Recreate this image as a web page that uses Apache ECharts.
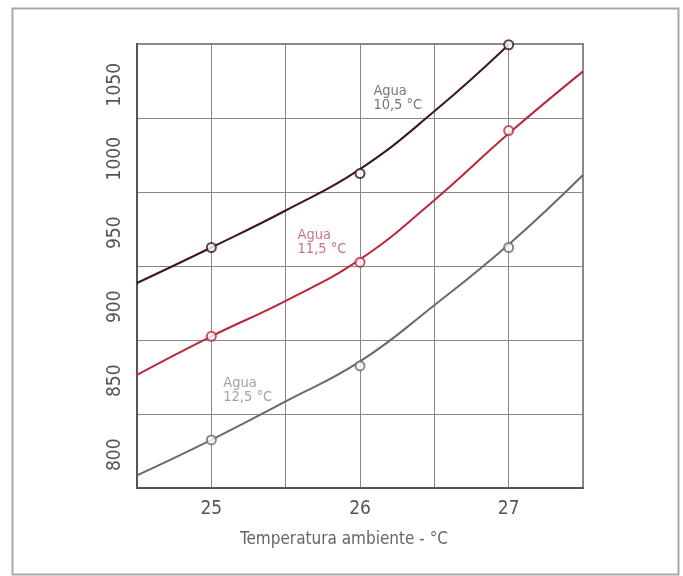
<!DOCTYPE html>
<html>
<head>
<meta charset="utf-8">
<script src="https://cdn.jsdelivr.net/npm/echarts@6/dist/echarts.min.js"></script>
<style>
  html, body { margin: 0; padding: 0; background: #ffffff; }
  #chart { width: 683px; height: 576px; }
</style>
</head>
<body>
<div id="chart"></div>
<script>
// Ambient temperature (°C) where each curve was read
const temperaturas = [24.5, 25, 25.5, 26, 26.5, 27, 27.5];

// Fitted curves for each water temperature
const curvaAgua105 = [916, 940, 965, 993, 1032, 1077];
const curvaAgua115 = [854, 880, 904, 932, 972, 1017, 1059];
const curvaAgua125 = [786, 810, 836, 863, 901, 942, 989];

// Measured points (open circles)
const puntosTemp = [25, 26, 27];
const puntosAgua105 = [940, 990, 1077];
const puntosAgua115 = [880, 930, 1019];
const puntosAgua125 = [810, 860, 940];

// Axis tick labels
const etiquetasX = [25, 26, 27];
const etiquetasY = [800, 850, 900, 950, 1000, 1050];

// Curve captions: [temperature, value, text]
const notas = [
  [26.09, 1050, 'Agua\n10,5 °C'],
  [25.58, 953, 'Agua\n11,5 °C'],
  [25.08, 853, 'Agua\n12,5 °C']
];

const FUENTE = '"Liberation Sans Narrow", "DejaVu Sans Condensed", "Arial Narrow", sans-serif';
const colores = ['#3a1722', '#b8283a', '#6a6a6a'];
const coloresNota = ['#555555', '#c0505c', '#8a8a8a'];

const pares = (xs, ys) => ys.map((v, i) => [xs[i], v]);

const curvas = [curvaAgua105, curvaAgua115, curvaAgua125];
const puntos = [puntosAgua105, puntosAgua115, puntosAgua125];

const series = [];
curvas.forEach((c, i) => {
  series.push({
    type: 'line',
    data: pares(temperaturas, c),
    smooth: 0.45,
    showSymbol: false,
    lineStyle: { color: colores[i], width: 2 },
    silent: true,
    z: 3
  });
});
puntos.forEach((p, i) => {
  series.push({
    type: 'scatter',
    data: pares(puntosTemp, p),
    symbol: 'circle',
    symbolSize: 9,
    itemStyle: { color: '#ffffff', borderColor: colores[i], borderWidth: 2 },
    silent: true,
    clip: false,
    z: 4
  });
});
notas.forEach((n, i) => {
  series.push({
    type: 'scatter',
    data: [[n[0], n[1]]],
    symbolSize: 0,
    silent: true,
    label: {
      show: true,
      position: [0, 0],
      align: 'left',
      verticalAlign: 'top',
      formatter: n[2],
      fontFamily: FUENTE,
      fontSize: 14.5,
      lineHeight: 14,
      color: coloresNota[i]
    },
    z: 5
  });
});

const chart = echarts.init(document.getElementById('chart'), null, { renderer: 'canvas' });
chart.setOption({
  animation: false,
  backgroundColor: '#ffffff',
  graphic: [{
    type: 'rect',
    left: 10, top: 6,
    shape: { width: 666, height: 566 },
    style: { fill: 'none', stroke: '#a8a8a8', lineWidth: 2 },
    silent: true
  }],
  grid: {
    left: 137, right: 100, top: 44, bottom: 88,
    show: true, borderColor: '#8a8a8a', borderWidth: 2,
    backgroundColor: 'transparent'
  },
  xAxis: {
    type: 'value',
    min: 24.5, max: 27.5, interval: 0.5,
    axisLine: { show: true, onZero: false, lineStyle: { color: '#555555', width: 2 } },
    axisTick: { show: false },
    splitLine: { show: true, lineStyle: { color: '#888888', width: 1 } },
    axisLabel: {
      margin: 12,
      fontFamily: FUENTE, fontSize: 19, color: '#555555',
      formatter: v => (etiquetasX.indexOf(v) >= 0 ? String(v) : '')
    },
    name: 'Temperatura ambiente - °C',
    nameLocation: 'middle',
    nameGap: 43,
    nameTextStyle: { fontFamily: FUENTE, fontSize: 17, color: '#666666', padding: [0, 32, 0, 0] }
  },
  yAxis: [{
    type: 'value',
    min: 777.5, max: 1077.5,
    axisLine: { show: true, onZero: false, lineStyle: { color: '#555555', width: 2 } },
    axisTick: { show: false },
    splitLine: { show: false },
    axisLabel: {
      customValues: etiquetasY,
      rotate: 90,
      margin: 12,
      fontFamily: FUENTE, fontSize: 19, color: '#555555',
      formatter: v => String(v)
    }
  }, {
    // grid bands: six equal divisions of the plot height
    type: 'value',
    min: 0, max: 6, interval: 1,
    position: 'left',
    axisLine: { show: false },
    axisTick: { show: false },
    axisLabel: { show: false },
    splitLine: { show: true, lineStyle: { color: '#888888', width: 1 } }
  }],
  series: series
});
</script>
</body>
</html>
